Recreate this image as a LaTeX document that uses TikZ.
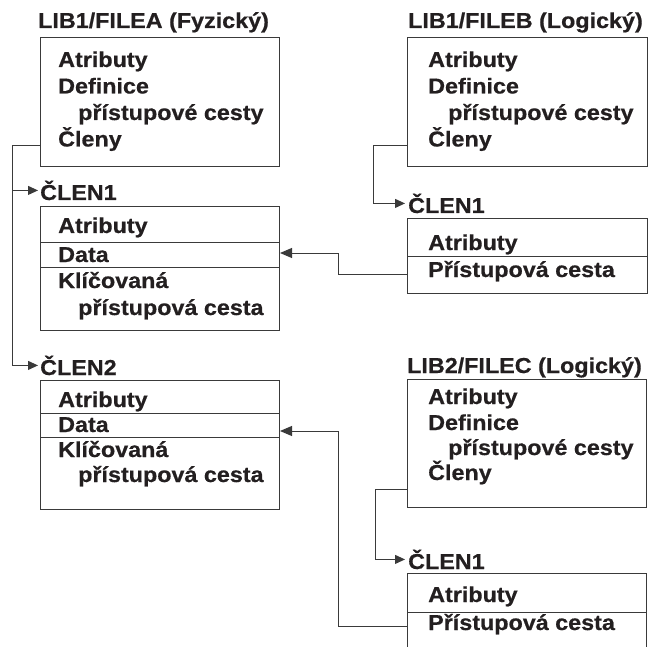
\documentclass[tikz,border=0pt]{standalone}
\usepackage{fontspec}
\newfontfamily\lab{Liberation Sans}[FakeStretch=1.08,FakeBold=0.6]
\usetikzlibrary{arrows.meta,calc}
\definecolor{ink}{HTML}{231F20}
\definecolor{rule}{HTML}{3A3A3A}

\begin{document}
\begin{tikzpicture}[x=1pt,y=-1pt,
  txt/.style={anchor=base west,inner sep=0pt,text=ink,font=\lab\bfseries\fontsize{21.6}{26}\selectfont},
  box/.style={draw=rule,line width=1pt,anchor=north west,inner sep=0pt,minimum width=239pt},
  wire/.style={draw=rule,line width=1pt},
  arr/.style={wire,-{Triangle[length=10pt,width=9pt]}},
  bigarr/.style={wire,-{Triangle[length=12pt,width=10pt]}}]
\useasboundingbox (0,0) rectangle (653,647);
\clip (0,0) rectangle (653,647);

% ---------- LIB1/FILEA (physical file) ----------
\node[txt] (ta) at (38,28) {LIB1/FILEA (Fyzický)};
\node[box,minimum height=129pt] (fa) at (40,37) {};
\node[txt] (fa1) at (58,67)  {Atributy};
\node[txt] (fa2) at (58,93.5){Definice};
\node[txt] (fa3) at (78,120) {přístupové cesty};
\node[txt] (fa4) at (58,146.5){Členy};

% member 1 of FILEA
\node[txt] (la1) at (40,200) {ČLEN1};
\node[box,minimum height=124pt] (ma1) at (40,206) {};
\draw[wire] ($(ma1.north west)+(0,36)$) -- ($(ma1.north east)+(0,36)$);
\draw[wire] ($(ma1.north west)+(0,61)$) -- ($(ma1.north east)+(0,61)$);
\node[txt] at (58,233) {Atributy};
\node[txt] at (58,262) {Data};
\node[txt] at (58,288) {Klíčovaná};
\node[txt] at (78,315) {přístupová cesta};

% member 2 of FILEA
\node[txt] (la2) at (40,375) {ČLEN2};
\node[box,minimum height=129pt] (ma2) at (40,380) {};
\draw[wire] ($(ma2.north west)+(0,33)$) -- ($(ma2.north east)+(0,33)$);
\draw[wire] ($(ma2.north west)+(0,57)$) -- ($(ma2.north east)+(0,57)$);
\node[txt] at (58,407) {Atributy};
\node[txt] at (58,432) {Data};
\node[txt] at (58,457) {Klíčovaná};
\node[txt] at (78,482) {přístupová cesta};

% ---------- LIB1/FILEB (logical file) ----------
\node[txt] (tb) at (408,28) {LIB1/FILEB (Logický)};
\node[box,minimum width=240pt,minimum height=129pt] (fb) at (407,37) {};
\node[txt] at (428,67)  {Atributy};
\node[txt] at (428,93.5){Definice};
\node[txt] at (448,120) {přístupové cesty};
\node[txt] at (428,146.5){Členy};

\node[txt] (lb1) at (408,213) {ČLEN1};
\node[box,minimum width=240pt,minimum height=75pt] (mb1) at (407,218) {};
\draw[wire] ($(mb1.north west)+(0,38)$) -- ($(mb1.north east)+(0,38)$);
\node[txt] at (428,250) {Atributy};
\node[txt] at (428,277) {Přístupová cesta};

% ---------- LIB2/FILEC (logical file) ----------
\node[txt] (tc) at (407,373) {LIB2/FILEC (Logický)};
\node[box,minimum height=128pt] (fc) at (407,379) {};
\node[txt] at (428,404) {Atributy};
\node[txt] at (428,430) {Definice};
\node[txt] at (448,455) {přístupové cesty};
\node[txt] at (428,480) {Členy};

\node[txt] (lc1) at (408,569) {ČLEN1};
\node[box,minimum height=100pt] (mc1) at (407,573) {};
\draw[wire] ($(mc1.north west)+(0,39)$) -- ($(mc1.north east)+(0,39)$);
\node[txt] at (428,602) {Atributy};
\node[txt] at (428,630) {Přístupová cesta};

% ---------- connectors ----------
% FILEA -> its two members
\coordinate (spa) at (12,0);
\draw[wire] ($(fa.north west)+(0,109)$) -| (spa |- la2.west);
\draw[arr] (spa |- la1.west) -- ($(la1.west)+(-2,0)$);
\draw[arr] (spa |- la2.west) -- ($(la2.west)+(-2,0)$);

% FILEB -> its member
\coordinate (spb) at (373,0);
\draw[arr] ($(fb.north west)+(0,109)$) -| (spb |- lb1.west) -- ($(lb1.west)+(-3,0)$);

% FILEC -> its member
\coordinate (spc) at (375,0);
\draw[arr] ($(fc.north west)+(0,110)$) -| (spc |- lc1.west) -- ($(lc1.west)+(-3,0)$);

% access paths -> data of the physical members
\coordinate (spd) at (338,0);
\draw[bigarr] ($(mb1.north west)+(0,56)$) -| ($(spd)+(0,253)$) -- ($(ma1.north east)+(0,47)$);
\draw[bigarr] ($(mc1.north west)+(0,53)$) -| ($(spd)+(0,431)$) -- ($(ma2.north east)+(0,51)$);
\end{tikzpicture}
\end{document}
